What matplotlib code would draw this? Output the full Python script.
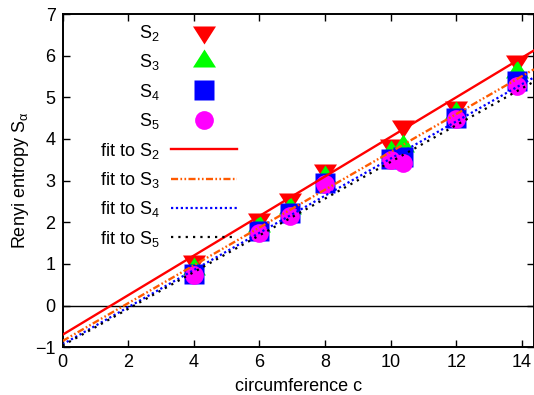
import numpy as np
import matplotlib
matplotlib.use("Agg")
import matplotlib.pyplot as plt
from matplotlib.lines import Line2D

plt.rcParams['font.family'] = ['Liberation Sans', 'DejaVu Sans']
plt.rcParams['mathtext.fontset'] = 'custom'
plt.rcParams['mathtext.rm'] = 'Liberation Sans'
plt.rcParams['mathtext.it'] = 'Liberation Sans:italic'

# ---- data ----
circumference = [4.0, 6.0, 6.93, 8.0, 10.0, 10.39, 12.0, 13.86]
S2 = [1.08, 2.09, 2.55, 3.25, 3.85, 4.32, 4.77, 5.87]
S3 = [0.88, 1.92, 2.34, 3.08, 3.68, 3.82, 4.63, 5.60]
S4 = [0.76, 1.78, 2.22, 2.94, 3.53, 3.57, 4.51, 5.40]
S5 = [0.73, 1.74, 2.14, 2.92, 3.50, 3.43, 4.49, 5.27]

# linear fits  S = slope * c + intercept
fit_slopes = [0.475, 0.454, 0.446, 0.441]
fit_intercepts = [-0.70, -0.85, -0.93, -0.96]

series_labels = [r'$\mathregular{S_2}$', r'$\mathregular{S_3}$',
                 r'$\mathregular{S_4}$', r'$\mathregular{S_5}$']
fit_labels = [r'fit to $\mathregular{S_2}$', r'fit to $\mathregular{S_3}$',
              r'fit to $\mathregular{S_4}$', r'fit to $\mathregular{S_5}$']
x_ticks = [0, 2, 4, 6, 8, 10, 12, 14]
y_ticks = [-1, 0, 1, 2, 3, 4, 5, 6, 7]

# ---- styles ----
tri_down = [(-0.958, 0.5), (0.958, 0.5), (0.0, -1.0), (-0.958, 0.5)]
tri_up = [(-0.958, -0.5), (0.958, -0.5), (0.0, 1.0), (-0.958, -0.5)]
square = [(-1, -1), (1, -1), (1, 1), (-1, 1), (-1, -1)]
marker_styles = [
    dict(marker=tri_down, color='#ff0000', ms=17.3),
    dict(marker=tri_up, color='#00ff00', ms=17.3),
    dict(marker=square, color='#0000ff', ms=13.7),
    dict(marker='o', color='#ff00ff', ms=13.5),
]
line_styles = [
    dict(color='#ff0000', lw=1.7, ls='-'),
    dict(color='#ff5a00', lw=1.7, ls=(0, (3, 1, 0.7, 1, 0.7, 1))),
    dict(color='#0000ff', lw=1.6, ls=(0, (1, 1.2))),
    dict(color='#000000', lw=1.6, ls=(0, (1, 2.3))),
]

FS = 13
W, H = 534, 395
fig = plt.figure(figsize=(W / 100, H / 100), dpi=100)
left, right, top, bottom = 62.5, 534.0, 14.0, 347.3
ax = fig.add_axes([left / W, 1 - bottom / H, (right - left) / W, (bottom - top) / H])
ax.set_xlim(0, 14.37)
ax.set_ylim(-1, 7)

ax.axhline(0, color='black', lw=1.0, zorder=1)

handles = []
for vals, st, lab in zip([S2, S3, S4, S5], marker_styles, series_labels):
    ax.plot(circumference, vals, ls='none', marker=st['marker'], ms=st['ms'],
            mfc=st['color'], mec='none', zorder=2, clip_on=False)
    handles.append(Line2D([], [], ls='none', marker=st['marker'], ms=st['ms'],
                          mfc=st['color'], mec='none', label=lab))

xr = np.array(ax.get_xlim())
for a, b, st, lab in zip(fit_slopes, fit_intercepts, line_styles, fit_labels):
    ax.plot(xr, a * xr + b, zorder=3, **st)
    handles.append(Line2D([], [], label=lab, **st))

ax.set_xticks(x_ticks)
ax.set_yticks(y_ticks)
ax.tick_params(direction='in', length=5, width=1.0, top=True, right=True,
               labelsize=FS, pad=5)
for s in ax.spines.values():
    s.set_linewidth(1.4)

ax.set_xlabel('circumference c', fontsize=FS, labelpad=5)
ax.set_ylabel(r'Renyi entropy $\mathregular{S_\alpha}$', fontsize=FS, labelpad=3)

leg = ax.legend(handles=handles, loc='upper right', markerfirst=False, frameon=False,
                fontsize=FS, handlelength=3.66, handletextpad=0.6, labelspacing=0.52,
                borderpad=0, borderaxespad=0, numpoints=1,
                bbox_to_anchor=(237 / W, 1 - 23 / H), bbox_transform=fig.transFigure)

fig.savefig('out.png', dpi=100)
